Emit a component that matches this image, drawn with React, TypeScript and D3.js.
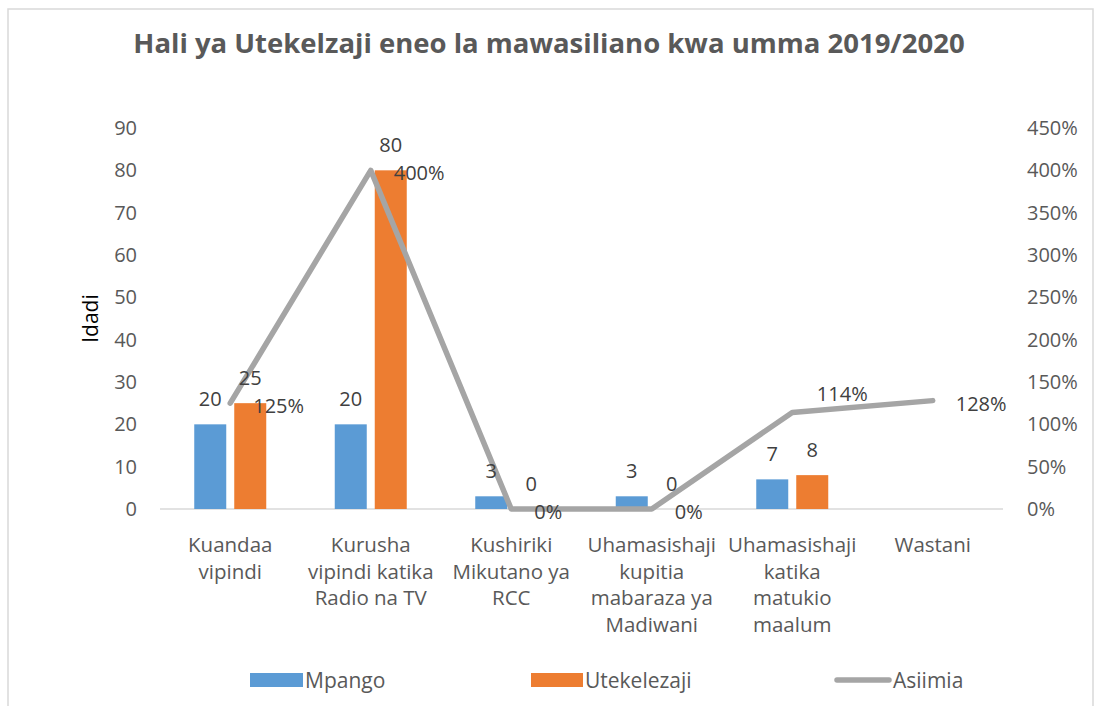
import React from "react";
import { scaleBand, scaleLinear, line } from "d3";

const categories: string[][] = [
  ["Kuandaa", "vipindi"],
  ["Kurusha", "vipindi katika", "Radio na TV"],
  ["Kushiriki", "Mikutano ya", "RCC"],
  ["Uhamasishaji", "kupitia", "mabaraza ya", "Madiwani"],
  ["Uhamasishaji", "katika", "matukio", "maalum"],
  ["Wastani"],
];
const mpango: (number | null)[] = [20, 20, 3, 3, 7, null];
const utekelezaji: (number | null)[] = [25, 80, 0, 0, 8, null];
const asiimia: number[] = [1.25, 4.0, 0, 0, 1.14, 1.28];
const leftTicks = [0, 10, 20, 30, 40, 50, 60, 70, 80, 90];
const rightTicks = [0, 0.5, 1, 1.5, 2, 2.5, 3, 3.5, 4, 4.5];

const W = 1095;
const H = 706;
const margin = { top: 128, right: 92, bottom: 197, left: 160 };
const FONT = "'Open Sans', sans-serif";
const TEXT = "#595959";
const BLUE = "#5B9BD5";
const ORANGE = "#ED7D31";
const GRAY = "#A5A5A5";

export default function App() {
  const x0 = scaleBand<number>()
    .domain(categories.map((_, i) => i))
    .range([margin.left, W - margin.right]);
  const x1 = scaleBand<string>()
    .domain(["mpango", "utekelezaji"])
    .range([-36, 36])
    .paddingInner(0.2);
  const y = scaleLinear().domain([0, 90]).range([H - margin.bottom, margin.top]);
  const y2 = scaleLinear().domain([0, 4.5]).range([H - margin.bottom, margin.top]);
  const cx = (i: number) => (x0(i) as number) + x0.bandwidth() / 2;

  const path = line<number>()
    .x((_, i) => cx(i))
    .y((d) => y2(d))(asiimia) as string;

  const series = [
    { key: "mpango", values: mpango, color: BLUE },
    { key: "utekelezaji", values: utekelezaji, color: ORANGE },
  ];

  const pct = (v: number) => Math.round(v * 100) + "%";

  return (
    <svg
      width={W}
      height={H}
      style={{ position: "absolute", left: 0, top: 0, background: "#fff" }}
      fontFamily={FONT}
    >
      <path d={`M8,${H} V9 H1093 V${H}`} fill="none" stroke="#D9D9D9" strokeWidth={1.5} />
      <text x={549} y={53} textAnchor="middle" fontSize={27.5} fontWeight="bold" fill={TEXT}>
        Hali ya Utekelzaji eneo la mawasiliano kwa umma 2019/2020
      </text>

      {/* left axis */}
      {leftTicks.map((t) => (
        <text key={"l" + t} x={137} y={y(t) + 7} textAnchor="end" fontSize={20} fill={TEXT}>
          {t}
        </text>
      ))}
      {rightTicks.map((t) => (
        <text key={"r" + t} x={1027} y={y2(t) + 7} fontSize={20} fill={TEXT}>
          {pct(t)}
        </text>
      ))}
      <text
        transform={`translate(98,${(y(0) + y(90)) / 2}) rotate(-90)`}
        textAnchor="middle"
        fontSize={21}
        fill="#000"
      >
        Idadi
      </text>

      <line x1={margin.left} x2={W - margin.right} y1={y(0)} y2={y(0)} stroke="#D9D9D9" strokeWidth={1.5} />

      {/* bars */}
      {series.map((s) =>
        s.values.map((v, i) =>
          v === null ? null : (
            <rect
              key={s.key + i}
              x={cx(i) + (x1(s.key) as number)}
              y={y(v)}
              width={x1.bandwidth()}
              height={y(0) - y(v)}
              fill={s.color}
            />
          )
        )
      )}

      <path d={path} fill="none" stroke={GRAY} strokeWidth={5.5} strokeLinecap="round" strokeLinejoin="round" />

      {/* bar labels */}
      {series.map((s) =>
        s.values.map((v, i) =>
          v === null ? null : (
            <text
              key={"t" + s.key + i}
              x={cx(i) + (x1(s.key) as number) + x1.bandwidth() / 2}
              y={y(v) - 18}
              textAnchor="middle"
              fontSize={20}
              fill="#404040"
            >
              {v}
            </text>
          )
        )
      )}

      {/* line labels */}
      {asiimia.map((v, i) => {
        const special = i === 4;
        return (
          <text
            key={"p" + i}
            x={special ? cx(i) + 50 : cx(i) + 23}
            y={special ? y2(v) - 11 : y2(v) + 10}
            textAnchor={special ? "middle" : "start"}
            fontSize={20}
            fill="#404040"
          >
            {pct(v)}
          </text>
        );
      })}

      {/* category labels */}
      {categories.map((lines, i) => (
        <text key={"c" + i} textAnchor="middle" fontSize={20.5} fill={TEXT}>
          {lines.map((l, j) => (
            <tspan key={j} x={cx(i)} y={552 + j * 26.5}>
              {l}
            </tspan>
          ))}
        </text>
      ))}

      {/* legend */}
      <rect x={250} y={673} width={53} height={14} fill={BLUE} />
      <text x={305} y={687.5} fontSize={21} fill={TEXT}>Mpango</text>
      <rect x={531} y={673} width={52} height={14} fill={ORANGE} />
      <text x={585} y={687.5} fontSize={21} fill={TEXT}>Utekelezaji</text>
      <line x1={837} x2={889} y1={680} y2={680} stroke={GRAY} strokeWidth={5.5} strokeLinecap="round" />
      <text x={893} y={687.5} fontSize={21} fill={TEXT}>Asiimia</text>
    </svg>
  );
}
